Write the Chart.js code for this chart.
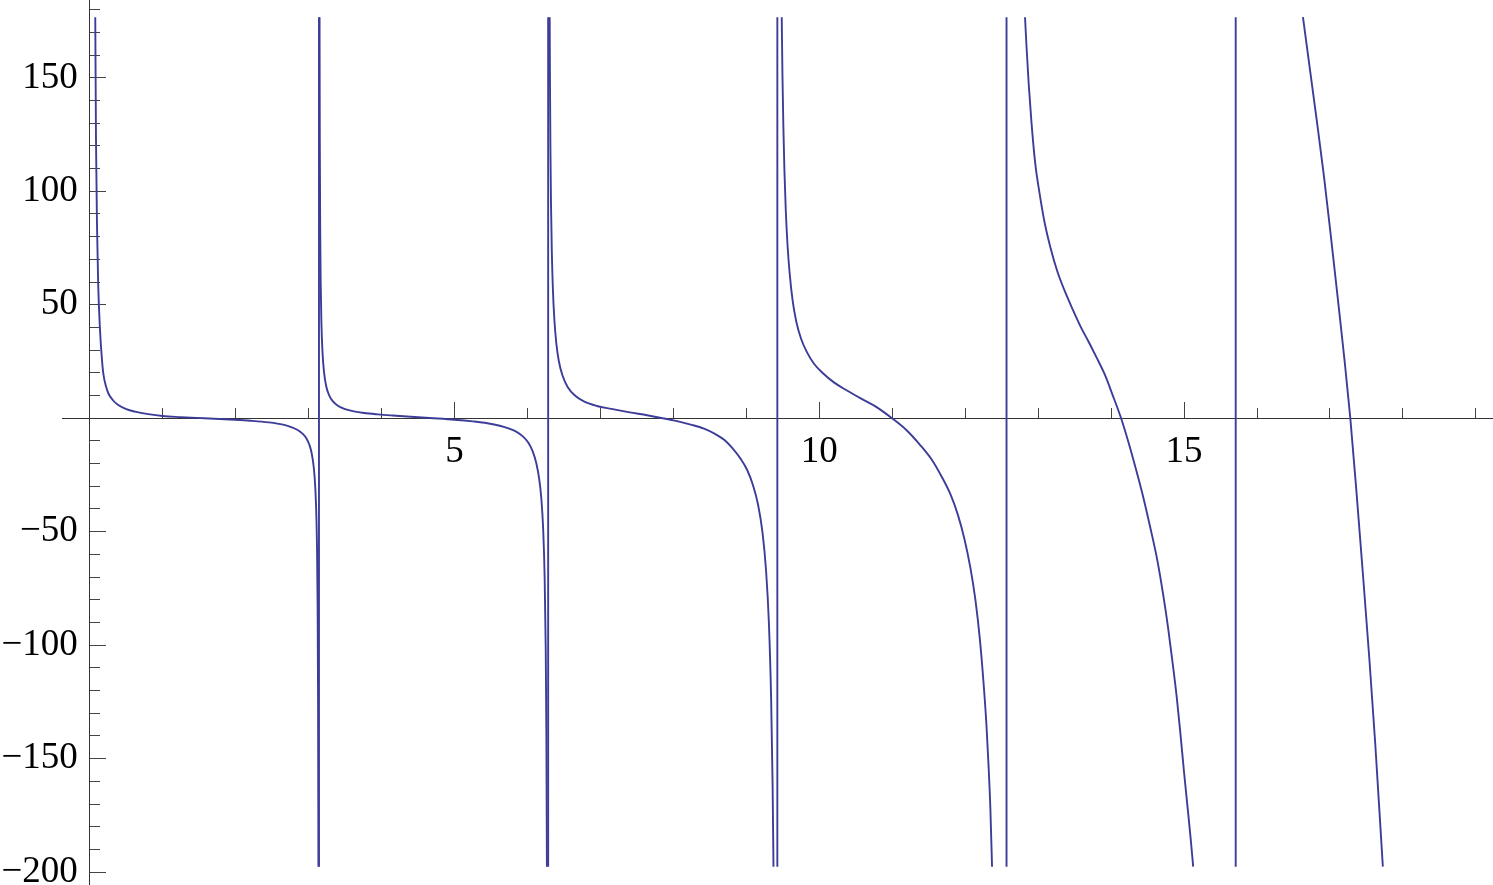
<!DOCTYPE html>
<html>
<head>
<meta charset="utf-8">
<title>Plot</title>
<script src="https://cdn.jsdelivr.net/npm/chart.js@4.4.1/dist/chart.umd.min.js"></script>
<style>
html, body { margin:0; padding:0; background:#ffffff; overflow:hidden; }
#wrap { position:relative; width:1493px; height:885px; }
canvas { display:block; }
</style>
</head>
<body>
<div id="wrap"><canvas id="chart" width="1493" height="885"></canvas></div>
<script>
// ---------- values ----------
const branch1X = [0.075, 0.085, 0.1, 0.115, 0.14, 0.165, 0.185, 0.22, 0.254, 0.32, 0.39, 0.5, 0.62, 0.8, 1.0, 1.25, 1.57, 1.99, 2.2, 2.45, 2.65, 2.77, 2.85, 2.92, 2.97, 3.01, 3.04, 3.07, 3.09, 3.105, 3.115, 3.123, 3.129, 3.134];
const branch1Y = [176.7, 122.6, 83, 59, 38.9, 26.5, 19.8, 14.3, 11.0, 7.8, 5.8, 4.0, 2.9, 1.8, 0.97, 0.5, 0, -0.66, -1.09, -1.82, -2.84, -4.0, -5.2, -6.9, -8.9, -11.7, -15.2, -21.6, -30, -42, -58, -83, -123, -197.6];

const branch2X = [3.1495, 3.153, 3.158, 3.165, 3.175, 3.19, 3.21, 3.24, 3.28, 3.33, 3.4, 3.5, 3.62, 3.76, 3.95, 4.15, 4.4, 4.712, 5.0, 5.25, 5.45, 5.62, 5.75, 5.85, 5.94, 6.01, 6.07, 6.12, 6.16, 6.19, 6.215, 6.235, 6.25, 6.259, 6.266];
const branch2Y = [176.7, 123, 85, 60, 42, 29, 20.5, 14.2, 10.2, 7.5, 5.5, 4.0, 3.0, 2.3, 1.7, 1.2, 0.64, 0, -0.65, -1.4, -2.2, -3.3, -4.6, -6.0, -8.1, -10.7, -14.5, -19.7, -26.7, -35.5, -49, -70, -102, -140, -197.6];

const branch3X = [6.304, 6.308, 6.314, 6.322, 6.333, 6.348, 6.368, 6.395, 6.43, 6.48, 6.55, 6.65, 6.78, 6.95, 7.15, 7.4, 7.64, 7.854, 8.05, 8.25, 8.42, 8.57, 8.7, 8.82, 8.92, 9.01, 9.09, 9.16, 9.22, 9.27, 9.31, 9.34, 9.36, 9.372];
const branch3Y = [176.7, 149, 120, 95, 74, 57, 43.6, 33, 25.1, 18.8, 13.8, 10.0, 7.3, 5.4, 4.1, 2.6, 1.3, 0, -1.3, -2.9, -4.6, -6.9, -9.6, -13.6, -17.8, -22.7, -29.4, -38, -50, -67, -91, -124, -162, -197.6];

const branch4X = [9.485, 9.495, 9.507, 9.522, 9.54, 9.565, 9.595, 9.635, 9.685, 9.75, 9.83, 9.93, 10.05, 10.2, 10.38, 10.58, 10.78, 10.996, 11.2, 11.38, 11.54, 11.68, 11.8, 11.9, 11.99, 12.07, 12.14, 12.2, 12.25, 12.29, 12.32, 12.345, 12.368];
const branch4Y = [176.7, 151, 129, 109, 92, 76, 63.4, 51.7, 42.5, 35, 29.1, 23.9, 19.8, 15.8, 12.2, 8.5, 5.0, 0, -5.4, -11.7, -18.2, -25.9, -33.7, -42.6, -53.3, -65.7, -80, -97, -116, -134.5, -153, -172, -197.6];

const branch5X = [12.82, 12.84, 12.87, 12.91, 12.96, 13.02, 13.09, 13.17, 13.26, 13.36, 13.47, 13.58, 13.69, 13.8, 13.91, 14.02, 14.137, 14.24, 14.34, 14.44, 14.54, 14.63, 14.71, 14.78, 14.84, 14.9, 14.95, 15.0, 15.05, 15.09, 15.125];
const branch5Y = [176.7, 164, 147.5, 129.7, 112.3, 99, 86, 75, 65, 56.4, 48.2, 40.5, 33.8, 26.8, 19.5, 10.3, 0, -10.8, -22.4, -34.7, -48.6, -62, -77, -92, -107, -123, -139, -156, -172, -185, -197.6];

const branch6X = [16.63, 16.72, 16.82, 16.92, 17.02, 17.11, 17.2, 17.279, 17.36, 17.45, 17.54, 17.62, 17.725];
const branch6Y = [176.7, 155, 131, 106, 78, 52, 25.5, 0, -31, -68, -106, -143, -197.6];

// x positions of the jumps and the visible extent of the connecting lines
const jumpX = [3.1416, 6.2832, 9.4248, 12.5664, 15.708];
const jumpY = [-197.6, 176.7];

const xTickLabels = [5, 10, 15];
const yTickLabels = [150, 100, 50, -50, -100, -150, -200];

// ---------- chart ----------
const branches = [
  [branch1X, branch1Y], [branch2X, branch2Y], [branch3X, branch3Y],
  [branch4X, branch4Y], [branch5X, branch5Y], [branch6X, branch6Y]
];

const LINE = '#3d3d99';
const AXIS = '#333333';
const TICK = '#444444';
const FONT_FAMILY = "'Liberation Serif', 'Times New Roman', Times, serif";
const fmt = v => (v < 0 ? '\u2212' + Math.abs(v) : String(v));

const X_MIN = -0.381, X_MAX = 19.235, Y_MIN = -205.6, Y_MAX = 184.2;

const datasets = [];
branches.forEach(([xs, ys], i) => {
  datasets.push({
    label: 'branch ' + (i + 1),
    data: xs.map((x, k) => ({ x: x, y: ys[k] })),
    showLine: true, borderColor: LINE, borderWidth: 1.9,
    pointRadius: 0, pointHoverRadius: 0,
    cubicInterpolationMode: 'monotone', fill: false
  });
});
jumpX.forEach((jx, i) => {
  datasets.push({
    label: 'jump ' + (i + 1),
    data: jumpY.map(y => ({ x: jx, y: y })),
    showLine: true, borderColor: LINE, borderWidth: 1.9,
    pointRadius: 0, pointHoverRadius: 0, tension: 0, fill: false
  });
});

new Chart(document.getElementById('chart'), {
  type: 'scatter',
  data: { datasets: datasets },
  options: {
    responsive: false,
    animation: false,
    devicePixelRatio: 1,
    events: [],
    layout: { padding: { left: 62, right: 0, top: 0, bottom: 0 } },
    plugins: { legend: { display: false }, tooltip: { enabled: false } },
    scales: {
      x: {
        type: 'linear', position: { y: 0 }, min: X_MIN, max: X_MAX,
        ticks: {
          stepSize: 5, includeBounds: false, autoSkip: false, maxRotation: 0, minRotation: 0,
          padding: 29, color: '#000000', font: { family: FONT_FAMILY, size: 37 },
          callback: v => (xTickLabels.includes(v) ? fmt(v) : '')
        },
        grid: { drawOnChartArea: false, drawTicks: true, tickLength: -17, color: TICK, tickColor: TICK, tickWidth: 1 },
        border: { display: true, color: AXIS, width: 1 }
      },
      xMinor: {
        type: 'linear', axis: 'x', position: { y: 0 }, min: X_MIN, max: X_MAX,
        ticks: { stepSize: 1, includeBounds: false, display: false },
        grid: { drawOnChartArea: false, drawTicks: true, tickLength: -10, color: TICK, tickColor: TICK, tickWidth: 1 },
        border: { display: false }
      },
      y: {
        type: 'linear', position: { x: 0 }, min: Y_MIN, max: Y_MAX,
        ticks: { stepSize: 50, includeBounds: false, display: false },
        grid: { drawOnChartArea: false, drawTicks: true, tickLength: -17, color: TICK, tickColor: TICK, tickWidth: 1 },
        border: { display: true, color: AXIS, width: 1 }
      },
      yMinor: {
        type: 'linear', axis: 'y', position: { x: 0 }, min: Y_MIN, max: Y_MAX,
        ticks: { stepSize: 10, includeBounds: false, display: false },
        grid: { drawOnChartArea: false, drawTicks: true, tickLength: -10, color: TICK, tickColor: TICK, tickWidth: 1 },
        border: { display: false }
      },
      yLabels: {
        type: 'linear', axis: 'y', position: { x: -0.165 }, min: Y_MIN, max: Y_MAX,
        ticks: {
          stepSize: 50, includeBounds: false, padding: 0, color: '#000000',
          font: { family: FONT_FAMILY, size: 37, lineHeight: 0.01 },
          callback: v => (yTickLabels.includes(v) ? fmt(v) : '')
        },
        grid: { display: false, drawTicks: false },
        border: { display: false }
      }
    }
  }
});
</script>
</body>
</html>
